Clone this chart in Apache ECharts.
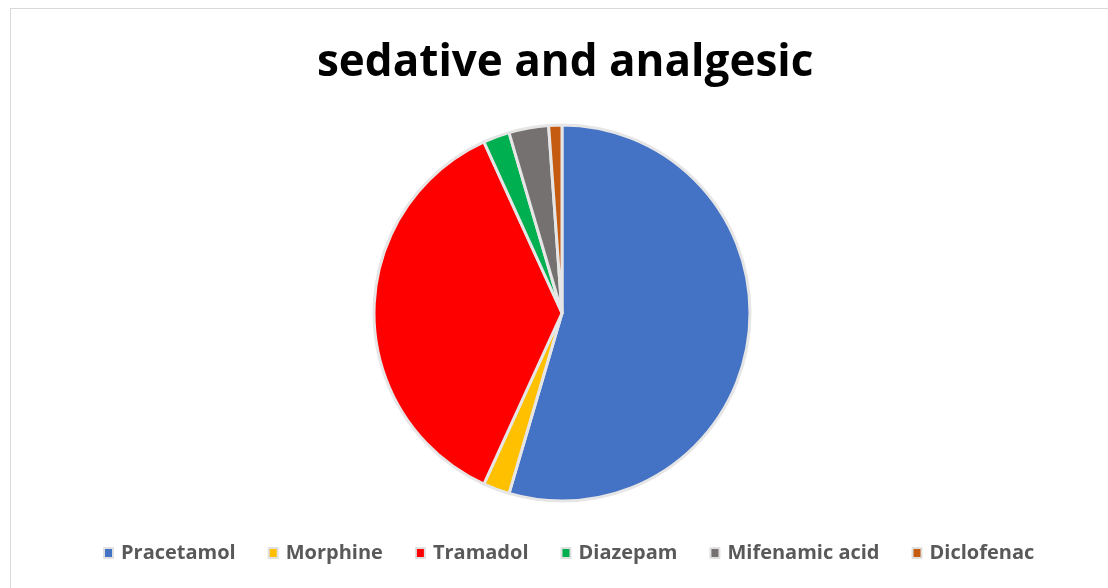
<!DOCTYPE html>
<html>
<head>
<meta charset="utf-8">
<script src="https://cdn.jsdelivr.net/npm/echarts@6/dist/echarts.min.js"></script>
<style>
  html, body { margin: 0; padding: 0; background: #fff; }
  #frame { position: absolute; left: 10px; top: 8px; width: 1120px; height: 600px; border: 1px solid #d9d9d9; box-sizing: border-box; }
  #chart { position: absolute; left: 0; top: 0; width: 1108px; height: 588px; }
</style>
</head>
<body>
<div id="frame"></div>
<div id="chart"></div>
<script>
// drug names and counts
var drugs = ['Pracetamol', 'Morphine', 'Tramadol', 'Diazepam', 'Mifenamic acid', 'Diclofenac'];
var counts = [48, 2, 32, 2, 3, 1];
var colors = ['#4472c4', '#ffc000', '#ff0000', '#00b050', '#767171', '#c55a11'];

var chart = echarts.init(document.getElementById('chart'));

chart.setOption({
    color: colors,
    title: {
        text: 'sedative and analgesic',
        left: 312,
        top: 36,
        textStyle: {
            fontFamily: 'Open Sans',
            fontWeight: 'bold',
            fontSize: 44,
            color: '#000'
        }
    },
    legend: {
        data: drugs,
        bottom: 20,
        left: 98,
        itemWidth: 9,
        itemHeight: 10,
        itemGap: 32,
        icon: 'rect',
        itemStyle: { borderColor: '#e0e0e0', borderWidth: 2 },
        textStyle: {
            fontFamily: 'Open Sans',
            fontWeight: 'bold',
            fontSize: 20,
            color: '#595959',
            padding: [0, 0, 0, 3]
        }
    },
    series: [{
        type: 'pie',
        center: [562, 313],
        radius: 188,
        startAngle: 90,
        clockwise: true,
        label: { show: false },
        labelLine: { show: false },
        itemStyle: { borderColor: '#e6e6e6', borderWidth: 3 },
        emphasis: { disabled: true },
        data: drugs.map(function (d, i) {
            return { name: d, value: counts[i] };
        })
    }]
});
</script>
</body>
</html>
